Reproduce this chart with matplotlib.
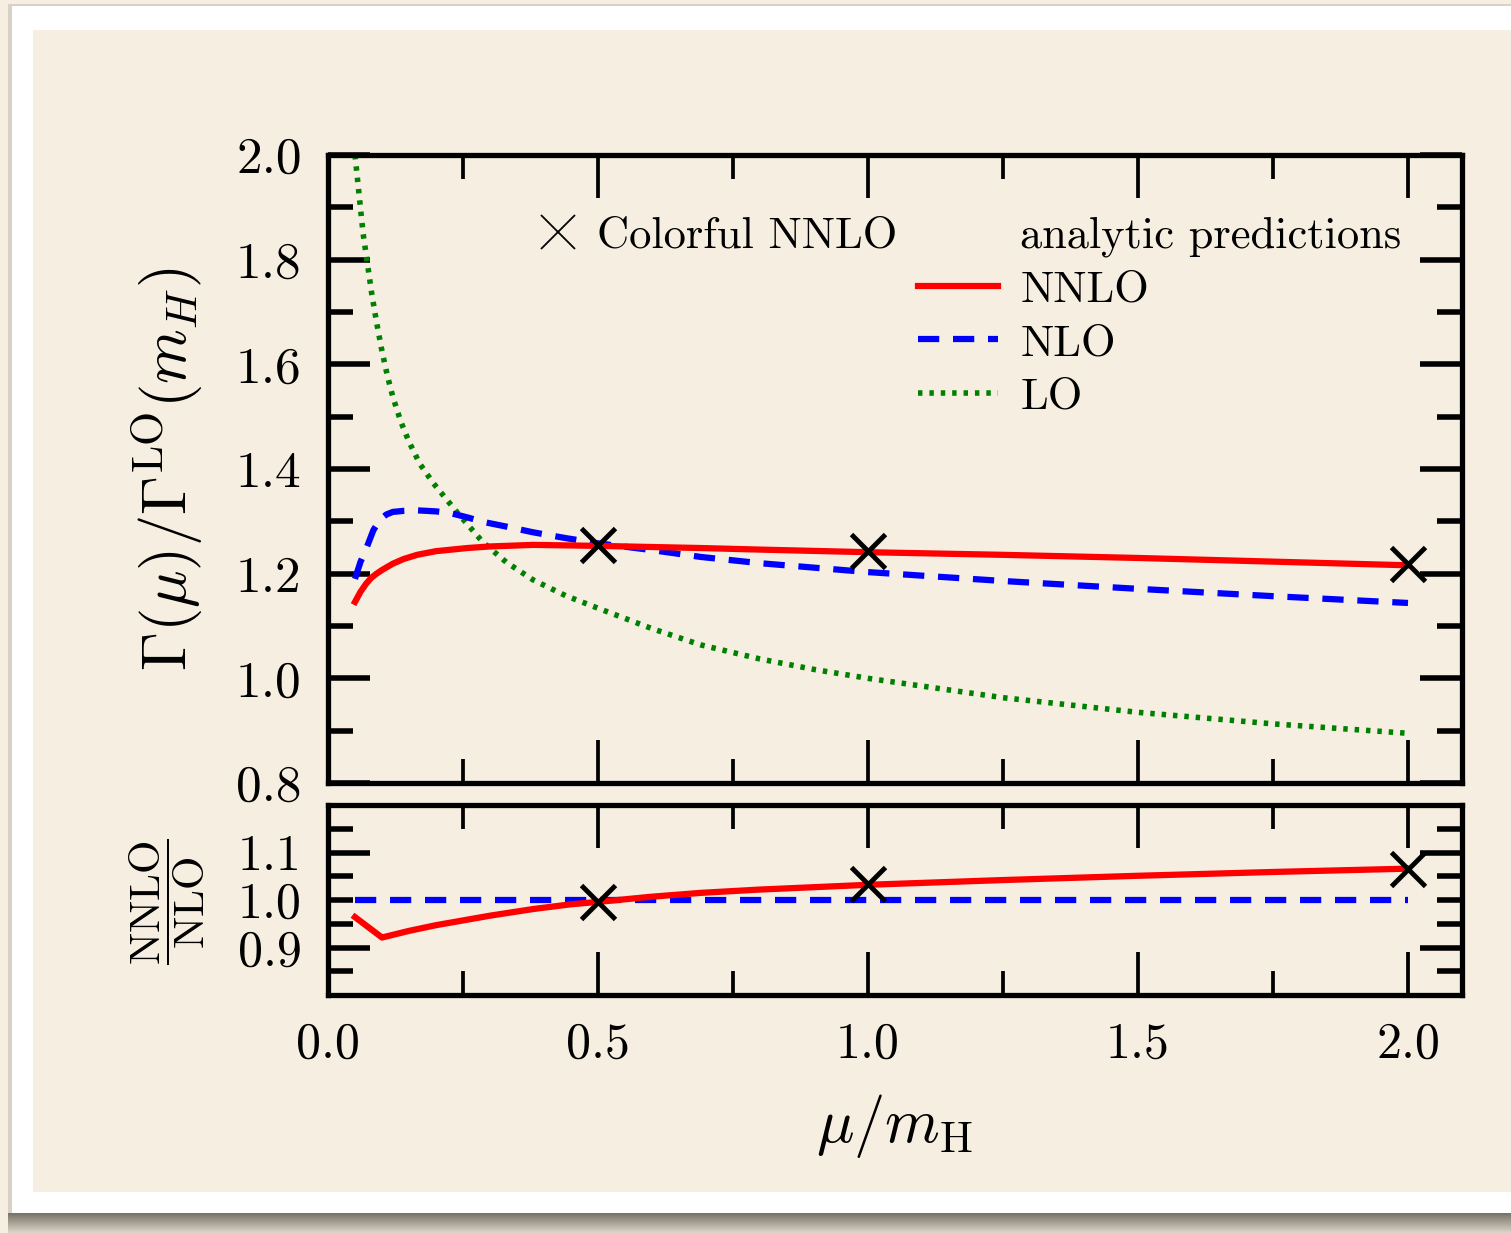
import matplotlib
matplotlib.use("Agg")
import matplotlib.pyplot as plt
from matplotlib.lines import Line2D
from matplotlib.patches import Rectangle
from matplotlib.ticker import FixedLocator, FixedFormatter, NullFormatter

# ---------------- data ----------------
x_lo = [0.05, 0.055, 0.06, 0.065, 0.072, 0.081, 0.09, 0.10, 0.11, 0.12, 0.135, 0.15, 0.17,
        0.195, 0.24, 0.287, 0.33, 0.38, 0.44, 0.50, 0.6, 0.69, 0.8, 0.9, 1.0, 1.25, 1.5, 1.75, 2.0]
y_lo = [2.00, 1.95, 1.90, 1.85, 1.80, 1.735, 1.68, 1.625, 1.578, 1.538, 1.49, 1.452, 1.41,
        1.373, 1.316, 1.26, 1.222, 1.188, 1.158, 1.134, 1.095, 1.064, 1.037, 1.017, 1.0, 0.963,
        0.935, 0.913, 0.895]

x_nlo = [0.05, 0.06, 0.072, 0.084, 0.096, 0.108, 0.12, 0.14, 0.165, 0.2, 0.226, 0.26, 0.287,
         0.33, 0.38, 0.44, 0.5, 0.6, 0.69, 0.8, 1.0, 1.25, 1.5, 1.75, 2.0]
y_nlo = [1.19, 1.222, 1.251, 1.283, 1.303, 1.313, 1.318, 1.320, 1.321, 1.319, 1.316, 1.307, 1.299,
         1.29, 1.279, 1.268, 1.258, 1.245, 1.232, 1.22, 1.203, 1.186, 1.171, 1.157, 1.144]

x_nnlo = [0.05, 0.06, 0.07, 0.08, 0.09, 0.1, 0.12, 0.14, 0.165, 0.2, 0.258, 0.3, 0.38, 0.505,
          0.69, 0.8, 1.0, 1.25, 1.5, 1.75, 2.0]
y_nnlo = [1.146, 1.165, 1.18, 1.192, 1.200, 1.207, 1.219, 1.228, 1.236, 1.243, 1.249, 1.252, 1.255,
          1.253, 1.249, 1.246, 1.241, 1.236, 1.23, 1.223, 1.216]

x_colorful = [0.5, 1.0, 2.0]
y_colorful = [1.255, 1.243, 1.218]

x_ratio_nnlo = [0.05, 0.1, 0.15, 0.2, 0.25, 0.3, 0.38, 0.45, 0.5, 0.6, 0.69, 0.8, 1.0, 1.25,
                1.5, 1.75, 2.0]
y_ratio_nnlo = [0.964, 0.921, 0.935, 0.947, 0.957, 0.967, 0.981, 0.991, 0.996, 1.007, 1.015,
                1.022, 1.032, 1.042, 1.051, 1.059, 1.066]
x_ratio_nlo = [0.05, 2.0]
y_ratio_nlo = [1.0, 1.0]
y_ratio_colorful = [0.996, 1.034, 1.066]

main_yticks = [0.8, 1.0, 1.2, 1.4, 1.6, 1.8, 2.0]
main_yticklabels = ["0.8", "1.0", "1.2", "1.4", "1.6", "1.8", "2.0"]
main_yminor = [0.9, 1.1, 1.3, 1.5, 1.7, 1.9]
xticks = [0.0, 0.5, 1.0, 1.5, 2.0]
xticklabels = ["0.0", "0.5", "1.0", "1.5", "2.0"]
xminor = [0.25, 0.75, 1.25, 1.75]
ratio_major = [0.9, 1.1]
ratio_major_labels = ["0.9", "1.1"]
ratio_minor = [0.85, 0.95, 1.0, 1.05, 1.15]
ratio_minor_labels = ["", "", "1.0", "", ""]

# ---------------- style ----------------
plt.rcParams["font.family"] = "serif"
plt.rcParams["font.serif"] = ["cmr10"]
plt.rcParams["mathtext.fontset"] = "cm"
plt.rcParams["axes.formatter.use_mathtext"] = True

BG = "#F6EFE1"
W, H = 1511, 1233
fig = plt.figure(figsize=(W / 100, H / 100), dpi=100, facecolor=BG)


def px_rect(x0, y0, x1, y1, color, z=-10, alpha=1.0):
    r = Rectangle((x0 / W, 1 - y1 / H), (x1 - x0) / W, (y1 - y0) / H,
                  transform=fig.transFigure, facecolor=color, edgecolor="none",
                  zorder=z, alpha=alpha)
    fig.add_artist(r)


# frame decoration
px_rect(8, 4, W, 1215, "#d8d2c6", z=-12)
px_rect(12, 6, W, 1213, "white", z=-11)
px_rect(33, 30, W, 1192, BG, z=-10)
n = 20
for i in range(n):
    t = i / (n - 1)
    c0 = (0.47, 0.45, 0.41)
    c1 = (0.86, 0.83, 0.78)
    col = tuple(a + (b - a) * t for a, b in zip(c0, c1))
    px_rect(8, 1213 + i, W, 1214 + i, col, z=-11)

left, right = 328 / W, 1462 / W
ax = fig.add_axes([left, 1 - 783 / H, right - left, (783 - 155) / H])
axr = fig.add_axes([left, 1 - 995 / H, right - left, (995 - 805) / H])

RED, BLUE, GREEN = "#ff0000", "#0000ff", "#008000"
LW = 4.5
DASH = (0, (3.4, 2.2))
DOT = (0, (0.8, 1.25))
LW_LO = 4.0

for a in (ax, axr):
    a.set_facecolor(BG)
    for s in a.spines.values():
        s.set_linewidth(3.8)
    a.set_xlim(0, 2.1)
    a.xaxis.set_major_locator(FixedLocator(xticks))
    a.xaxis.set_minor_locator(FixedLocator(xminor))
    a.tick_params(which="both", direction="in", top=True, right=True)
    a.tick_params(axis="x", which="major", length=31, width=2.7)
    a.tick_params(axis="x", which="minor", length=17.5, width=2.7)
    a.tick_params(axis="y", which="major", length=30, width=4)
    a.tick_params(axis="y", which="minor", length=18, width=4)
    a.tick_params(which="both", labelsize=36, pad=19)
ax.tick_params(axis="y", which="both", labelsize=37)

# main panel
ax.plot(x_lo, y_lo, color=GREEN, lw=LW_LO, linestyle=DOT, label="LO")
ax.plot(x_nlo, y_nlo, color=BLUE, lw=LW, linestyle=DASH, label="NLO")
ax.plot(x_nnlo, y_nnlo, color=RED, lw=LW, label="NNLO")
ax.plot(x_colorful, y_colorful, linestyle="none", marker="x", ms=25, mew=3.5,
        color="black", zorder=5)
ax.set_ylim(0.8, 2.0)
ax.yaxis.set_major_locator(FixedLocator(main_yticks))
ax.yaxis.set_major_formatter(FixedFormatter(main_yticklabels))
ax.yaxis.set_minor_locator(FixedLocator(main_yminor))
ax.tick_params(labelbottom=False)
ax.set_ylabel(r"$\Gamma(\mu)/\Gamma^{\rm LO}(m_H)$", fontsize=45)
ax.yaxis.set_label_coords(-0.108, 0.5)

# legends
h_cross = Line2D([], [], linestyle="none", marker="x", ms=25, mew=1.3, color="black")
leg1 = ax.legend([h_cross], ["Colorful NNLO"], loc="upper left",
                 bbox_to_anchor=(0.1834, 0.902), frameon=False, fontsize=32,
                 handlelength=1.0, handletextpad=0.37, borderpad=0, borderaxespad=0)
ax.add_artist(leg1)
h_blank = Line2D([], [], alpha=0)
h_nnlo = Line2D([], [], color=RED, lw=LW)
h_nlo = Line2D([], [], color=BLUE, lw=LW, linestyle=DASH)
h_lo = Line2D([], [], color=GREEN, lw=LW_LO, linestyle=DOT)
ax.legend([h_blank, h_nnlo, h_nlo, h_lo],
          ["analytic predictions", "NNLO", "NLO", "LO"],
          loc="upper left", bbox_to_anchor=(0.5203, 0.902), frameon=False,
          fontsize=32, handlelength=1.8, handletextpad=0.5, labelspacing=0.3,
          borderpad=0, borderaxespad=0)

# ratio panel
axr.plot(x_ratio_nlo, y_ratio_nlo, color=BLUE, lw=LW, linestyle=DASH)
axr.plot(x_ratio_nnlo, y_ratio_nnlo, color=RED, lw=LW)
axr.plot(x_colorful, y_ratio_colorful, linestyle="none", marker="x", ms=25, mew=3.5,
         color="black", zorder=5)
axr.set_ylim(0.8, 1.2)
axr.yaxis.set_major_locator(FixedLocator(ratio_major))
axr.yaxis.set_major_formatter(FixedFormatter(ratio_major_labels))
axr.yaxis.set_minor_locator(FixedLocator(ratio_minor))
axr.yaxis.set_minor_formatter(FixedFormatter(ratio_minor_labels))
axr.tick_params(axis="y", which="minor", labelleft=True, labelsize=36, pad=19)
axr.xaxis.set_major_formatter(FixedFormatter(xticklabels))
axr.xaxis.set_minor_formatter(NullFormatter())
axr.set_xlabel(r"$\mu/m_{\rm H}$", fontsize=45)
axr.xaxis.set_label_coords(0.5, -0.51)
axr.set_ylabel(r"$\dfrac{\rm NNLO}{\rm NLO}$", fontsize=31)
axr.yaxis.set_label_coords(-0.107, 0.49)

fig.savefig("out.png", dpi=100, facecolor=BG)
